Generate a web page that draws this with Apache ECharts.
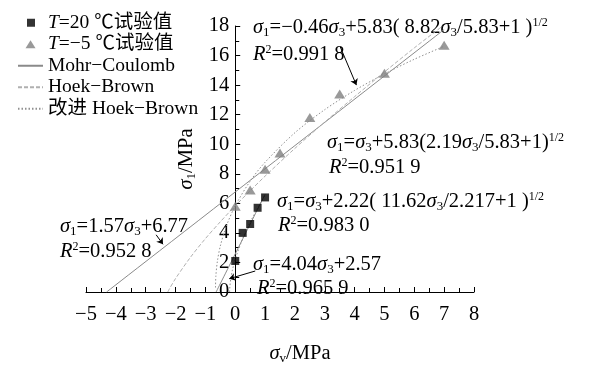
<!DOCTYPE html>
<html>
<head>
<meta charset="utf-8">
<script src="https://cdn.jsdelivr.net/npm/echarts@6/dist/echarts.min.js"></script>
<style>
  html, body { margin: 0; padding: 0; background: #fff; }
  #chart { width: 591px; height: 370px; }
</style>
</head>
<body>
<div id="chart"></div>
<script>
// 试验值
const t20Points = [[0, 2.1], [0.25, 4.0], [0.5, 4.6], [0.75, 5.7], [1.0, 6.4]]
const tm5Points = [[0, 5.8], [0.5, 6.9], [1.0, 8.3], [1.5, 9.4], [2.5, 11.8], [3.5, 13.4], [5.0, 14.8], [7.0, 16.7]]
// 拟合曲线
const mcTm5 = [[-4.31, 0], [7.0, 17.76]]
const mcT20 = [[-0.64, 0], [1.0, 6.61]]
const hbTm5 = [[-2.26, 0], [-2.2, 0.23], [-2.0, 0.91], [-1.5, 2.35], [-1.0, 3.61], [-0.5, 4.75], [0, 5.83], [0.5, 6.85], [1, 7.84], [2, 9.72], [3, 11.5], [4, 13.22], [5, 14.89], [6, 16.52], [6.95, 18.0]]
const ihbTm5 = [[-0.661, 0.3], [-0.65, 1.05], [-0.6, 2.05], [-0.5, 3.11], [-0.3, 4.45], [0, 5.83], [0.5, 7.5], [1, 8.78], [2, 10.78], [3, 12.34], [4, 13.64], [5, 14.76], [6, 15.75], [7, 16.63]]
const ihbT20 = [[-0.189, 0], [-0.18, 0.35], [-0.15, 0.88], [-0.1, 1.43], [0, 2.22], [0.25, 3.62], [0.5, 4.72], [0.75, 5.68], [1, 6.55]]
// 坐标轴
const xTicks = [-5, 8, 1]
const yTicks = [0, 18, 2]
// 注释箭头 [起点, 终点]
const arrows = [
  [[3.52, 16.58], [4.06, 14.0]],
  [[-2.65, 3.87], [-2.42, 3.23]],
  [[0.67, 1.42], [-0.2, 0.9]]
]

const FONT = "'Liberation Serif', 'Noto Sans CJK SC', serif"
const FS = 20.5
const rich = {
  i: { fontStyle: 'italic', fontSize: FS, fontFamily: FONT, color: '#000', lineHeight: 23 },
  sub: { fontSize: 13, fontFamily: FONT, color: '#000', verticalAlign: 'bottom', lineHeight: 13 },
  sup: { fontSize: 12, fontFamily: FONT, color: '#000', verticalAlign: 'top', lineHeight: 12 },
  n: { fontSize: FS, fontFamily: FONT, color: '#000', lineHeight: 23 }
}

const S = '{i|σ}'
const labels = [
  { x: 253, y: 28, t: S + '{sub|1}{n|=−0.46}' + S + '{sub|3}{n|+5.83( 8.82}' + S + '{sub|3}{n|/5.83+1 )}{sup|1/2}' },
  { x: 253, y: 55, t: '{i|R}{sup|2}{n|=0.991 8}' },
  { x: 327, y: 143, t: S + '{sub|1}{n|=}' + S + '{sub|3}{n|+5.83(2.19}' + S + '{sub|3}{n|/5.83+1)}{sup|1/2}' },
  { x: 329, y: 168, t: '{i|R}{sup|2}{n|=0.951 9}' },
  { x: 277, y: 202, t: S + '{sub|1}{n|=}' + S + '{sub|3}{n|+2.22( 11.62}' + S + '{sub|3}{n|/2.217+1 )}{sup|1/2}' },
  { x: 278, y: 226, t: '{i|R}{sup|2}{n|=0.983 0}' },
  { x: 60, y: 227, t: S + '{sub|1}{n|=1.57}' + S + '{sub|3}{n|+6.77}' },
  { x: 60, y: 252, t: '{i|R}{sup|2}{n|=0.952 8}' },
  { x: 253, y: 265, t: S + '{sub|1}{n|=4.04}' + S + '{sub|3}{n|+2.57}' },
  { x: 257, y: 289, t: '{i|R}{sup|2}{n|=0.965 9}' }
]

const GRID_LEFT = 86
const GRID_RIGHT = 117
const chart = echarts.init(document.getElementById('chart'), null, { renderer: 'canvas' })
const plotW = 591 - GRID_LEFT - GRID_RIGHT
// y 轴放在 x=0 处
const yOffset = -plotW * (0 - xTicks[0]) / (xTicks[1] - xTicks[0])

const lineSeries = (name, data, color, type) => ({
  name: name,
  type: 'line',
  data: data,
  smooth: 0.3,
  symbol: 'none',
  silent: true,
  z: 1,
  lineStyle: { color: color, width: 1, type: type },
  itemStyle: { color: color }
})

const hideSym = { opacity: 0 }

const option = {
  animation: false,
  backgroundColor: '#fff',
  grid: { left: GRID_LEFT, right: GRID_RIGHT, top: 26, bottom: 64 },
  legend: {
    orient: 'vertical',
    left: 17,
    top: 13,
    padding: 0,
    itemWidth: 25,
    itemHeight: 10,
    itemGap: 2,
    textStyle: { fontSize: 19.5, fontFamily: FONT, color: '#000', rich: { i: { fontStyle: 'italic', fontSize: 19.5, fontFamily: FONT } } },
    formatter: function (name) {
      return name.replace('T=', '{i|T}=')
    },
    data: [
      { name: 'T=20 ℃试验值', icon: 'path://M0,0M25,10M9,1h8v8h-8z' },
      { name: 'T=−5 ℃试验值', icon: 'path://M0,0M25,10M12.5,1L17.5,9H7.5Z' },
      { name: 'Mohr−Coulomb', itemStyle: hideSym },
      { name: 'Hoek−Brown', itemStyle: hideSym },
      { name: '改进 Hoek−Brown', itemStyle: hideSym }
    ]
  },
  xAxis: {
    type: 'value',
    min: xTicks[0],
    max: xTicks[1],
    interval: xTicks[2],
    name: '{i|σ}{sub|v}{n|/MPa}',
    nameLocation: 'middle',
    nameGap: 50,
    nameTextStyle: { rich: rich, padding: [0, 0, 0, 40] },
    axisLine: { onZero: false, lineStyle: { color: '#000', width: 1 } },
    axisTick: { inside: true, length: 5, lineStyle: { color: '#000' } },
    minorTick: { show: true, splitNumber: 2, length: 4, lineStyle: { color: '#000' } },
    splitLine: { show: false },
    axisLabel: {
      fontSize: FS, fontFamily: FONT, color: '#000', margin: 12,
      formatter: v => String(v).replace('-', '−')
    }
  },
  yAxis: {
    type: 'value',
    min: yTicks[0],
    max: yTicks[1],
    interval: yTicks[2],
    offset: yOffset,
    name: '{i|σ}{sub|1}{n|/MPa}',
    nameLocation: 'middle',
    nameGap: 24,
    nameTextStyle: { rich: rich },
    axisLine: { onZero: false, lineStyle: { color: '#000', width: 1 } },
    axisTick: { inside: true, length: 5, lineStyle: { color: '#000' } },
    minorTick: { show: true, splitNumber: 2, length: 4, lineStyle: { color: '#000' } },
    splitLine: { show: false },
    axisLabel: { fontSize: FS, fontFamily: FONT, color: '#000', margin: 6 }
  },
  series: [
    {
      name: 'T=20 ℃试验值',
      type: 'scatter',
      data: t20Points,
      symbol: 'rect',
      symbolSize: 8,
      z: 5,
      itemStyle: { color: '#000' }
    },
    {
      name: 'T=−5 ℃试验值',
      type: 'scatter',
      data: tm5Points,
      symbol: 'triangle',
      symbolSize: [11, 9],
      z: 5,
      itemStyle: { color: '#7f7f7f' }
    },
    lineSeries('Mohr−Coulomb', mcTm5, '#8a8a8a', 'solid'),
    lineSeries('Mohr−Coulomb', mcT20, '#8a8a8a', 'solid'),
    lineSeries('Hoek−Brown', hbTm5, '#b0b0b0', [4, 2]),
    lineSeries('改进 Hoek−Brown', ihbTm5, '#909090', [1.5, 2]),
    lineSeries('改进 Hoek−Brown', ihbT20, '#909090', [1.5, 2]),
    {
      name: 'arrows',
      type: 'line',
      data: [],
      markLine: {
        silent: true,
        symbol: ['none', 'arrow'],
        symbolSize: 6,
        label: { show: false },
        lineStyle: { color: '#000', width: 1, type: 'solid' },
        data: arrows.map(a => [{ coord: a[0] }, { coord: a[1] }])
      }
    }
  ],
  graphic: labels.map(l => ({
    type: 'text',
    x: l.x,
    y: l.y,
    style: {
      text: l.t,
      rich: rich,
      fontSize: FS,
      fontFamily: FONT,
      fill: '#000',
      verticalAlign: 'middle'
    }
  }))
}

chart.setOption(option)
</script>
</body>
</html>
